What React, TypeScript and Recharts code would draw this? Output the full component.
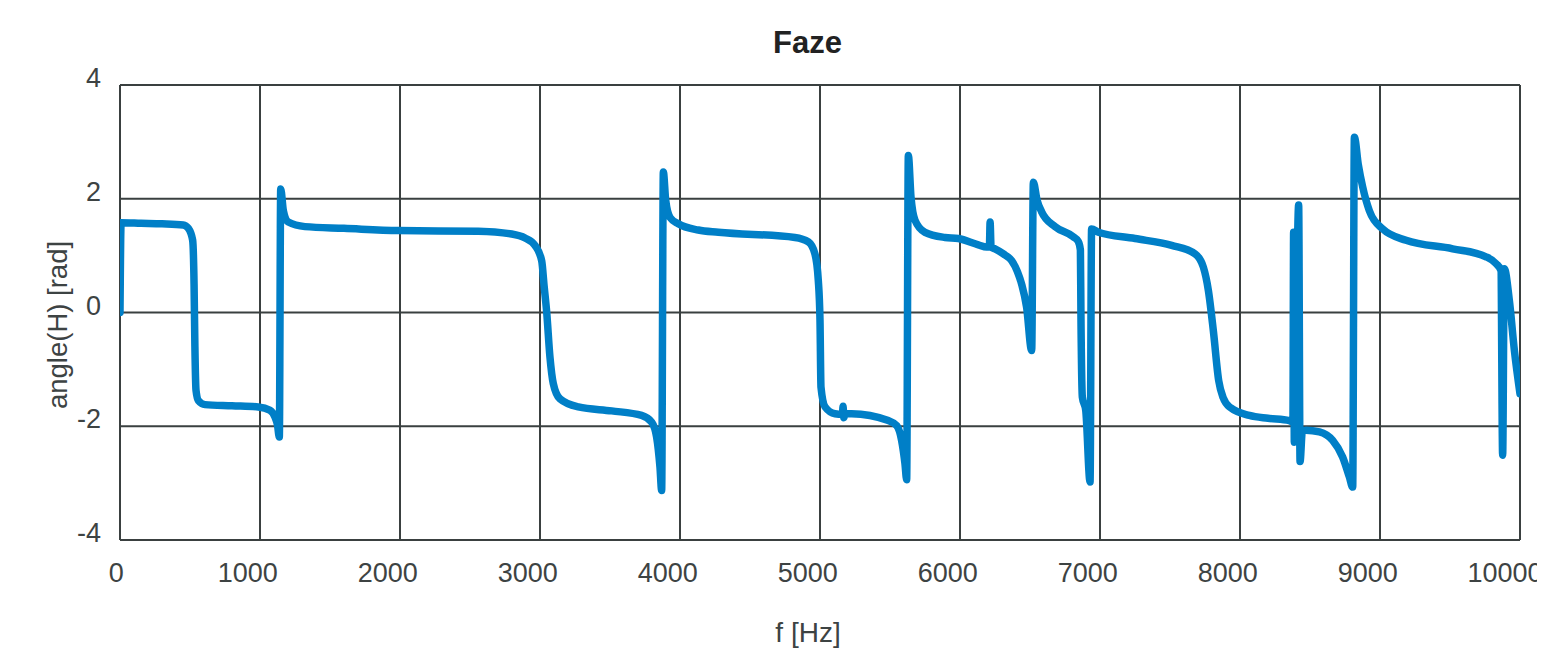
import React from 'react';
import { LineChart, Line, XAxis, YAxis, CartesianGrid, Customized } from 'recharts';

// frequency [Hz]
const FREQ: number[] = [
  0, 8, 150, 300, 452, 488, 519, 529, 535, 543, 560, 607, 800, 988, 1071, 1107, 1125, 1138,
  1148, 1167, 1202, 1321, 1600, 1988, 2560, 2798, 2893, 2964, 3012, 3030, 3048, 3071, 3095,
  3143, 3274, 3512, 3726, 3798, 3833, 3857, 3869, 3881, 3898, 3929, 3988, 4131, 4274, 4821,
  4917, 4964, 4988, 5000, 5007, 5036, 5107, 5160, 5165, 5170, 5180, 5226, 5488, 5548, 5583,
  5607, 5619, 5631, 5650, 5679, 5750, 5893, 5988, 6131, 6190, 6210, 6215, 6222, 6250, 6310,
  6369, 6410, 6440, 6476, 6512, 6524, 6550, 6583, 6679, 6810, 6845, 6860, 6864, 6874, 6898,
  6929, 6940, 6988, 7250, 7512, 7680, 7738, 7774, 7810, 7848, 7880, 7930, 8067, 8200, 8352,
  8378, 8383, 8388, 8419, 8429, 8445, 8471, 8567, 8662, 8733, 8781, 8805, 8817, 8845, 8876,
  8924, 9019, 9186, 9519, 9757, 9829, 9864, 9876, 9888, 9924, 9960, 10000,
];

// phase angle(H) [rad]
const PHASE: number[] = [
  0, 1.58, 1.57, 1.56, 1.54, 1.48, 1.27, 0.5, -0.6, -1.37, -1.55, -1.62, -1.64, -1.66, -1.72, -1.84, -1.98, -2.19,
  2.17, 1.79, 1.59, 1.51, 1.48, 1.44, 1.43, 1.38, 1.31, 1.18, 0.91, 0.45, 0, -0.78, -1.25,
  -1.52, -1.66, -1.73, -1.81, -1.93, -2.19, -2.72, -3.13, 2.47, 1.97, 1.67, 1.56, 1.45, 1.41, 1.32,
  1.24, 1.03, 0.56, -0.14, -1.31, -1.66, -1.78, -1.79, -1.65, -1.85, -1.78, -1.78, -1.9, -1.99, -2.25,
  -2.66, -2.94, 2.76, 2.03, 1.62, 1.41, 1.32, 1.3, 1.19, 1.15, 1.15, 1.59, 1.15, 1.12, 1.03,
  0.91, 0.72, 0.5, 0.09, -0.67, 2.29, 1.98, 1.77, 1.51, 1.33, 1.25, 1.1, -0.08, -1.49, -1.72,
  -2.98, 1.47, 1.41, 1.3, 1.18, 1.03, 0.8, 0.39, -0.33, -1.2, -1.5, -1.67, -1.81, -1.86, -1.9,
  -1.93, 1.41, -2.28, 1.89, -2.62, -2.09, -2.07, -2.1, -2.25, -2.54, -2.89, -3.07, 3.08, 2.6, 2.21,
  1.79, 1.47, 1.27, 1.12, 0.98, 0.86, 0.74, -2.51, 0.77, 0.21, -0.67, -1.43,
];

const X_TICKS: number[] = [0, 1000, 2000, 3000, 4000, 5000, 6000, 7000, 8000, 9000, 10000];
const Y_TICKS: number[] = [-4, -2, 0, 2, 4];

const TITLE = 'Faze';
const X_LABEL = 'f [Hz]';
const Y_LABEL = 'angle(H) [rad]';

const data = FREQ.map((f, i) => ({ f, v: PHASE[i] }));

const FONT = '"Liberation Sans", Arial, Helvetica, sans-serif';
const TEXT_COLOR = '#3d4343';
const GRID_COLOR = '#3a4040';
const LINE_COLOR = '#007fc7';

const W = 1537;
const H = 645;
const MARGIN = { top: 77, right: 25, bottom: 53, left: 32 };

const XTick = (props: any) => {
  const { x, y, payload } = props;
  const s = String(payload.value);
  return (
    <text x={x} y={y} dx={-(1 + 2.8 * s.length)} dy={42} textAnchor="middle"
      fill={TEXT_COLOR} fontSize={27} fontFamily={FONT}>
      {s}
    </text>
  );
};

const YTick = (props: any) => {
  const { x, y, payload } = props;
  return (
    <text x={x} y={y} dx={-19} dy={2} textAnchor="end"
      fill={TEXT_COLOR} fontSize={27} fontFamily={FONT}>
      {String(payload.value)}
    </text>
  );
};

const Texts = () => (
  <g>
    <text x={799.5} y={45} textAnchor="middle" fontSize={31} fontWeight="bold"
      fill="#222" fontFamily={FONT}>{TITLE}</text>
    <text x={800} y={634} textAnchor="middle" fontSize={28}
      fill={TEXT_COLOR} fontFamily={FONT}>{X_LABEL}</text>
    <text x={58.5} y={317} textAnchor="middle" fontSize={27.5}
      transform="rotate(-90 58.5 317)" fill={TEXT_COLOR} fontFamily={FONT}>{Y_LABEL}</text>
  </g>
);

export default function App() {
  return (
    <div style={{ width: W, height: H, overflow: 'visible' }}>
      <LineChart width={W} height={H} data={data} margin={MARGIN} style={{ overflow: 'visible' }}>
        <CartesianGrid stroke={GRID_COLOR} strokeWidth={2} vertical horizontal />
        <XAxis dataKey="f" type="number" domain={[0, 10000]} ticks={X_TICKS}
          interval={0} axisLine={false} tickLine={false} tickSize={0} tickMargin={0}
          height={60} tick={<XTick />} allowDataOverflow />
        <YAxis type="number" domain={[-4, 4]} ticks={Y_TICKS} interval={0}
          axisLine={false} tickLine={false} tickSize={0} tickMargin={0}
          width={80} tick={<YTick />} allowDataOverflow={false} />
        <Line type="monotone" dataKey="v" stroke={LINE_COLOR} strokeWidth={7.5}
          dot={false} activeDot={false} isAnimationActive={false}
          strokeLinejoin="round" strokeLinecap="round" />
        <Customized component={<Texts />} />
      </LineChart>
    </div>
  );
}
